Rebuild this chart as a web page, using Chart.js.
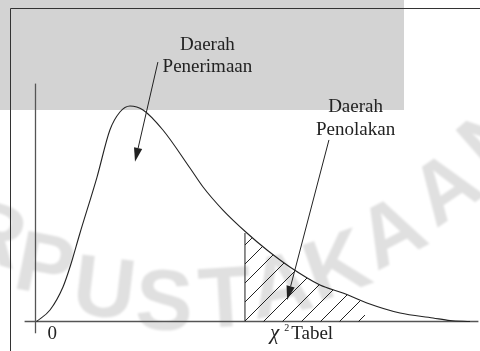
<!DOCTYPE html>
<html><head><meta charset="utf-8">
<script src="https://cdn.jsdelivr.net/npm/chart.js@4/dist/chart.umd.min.js"></script>
<style>html,body{margin:0;padding:0;background:#fff;overflow:hidden}#wrap{width:480px;height:351px}</style>
</head><body><div id="wrap"><canvas id="c" width="480" height="351"></canvas></div>
<script>
// ---- data ----
const curveX = [0.05, 0.665, 1.26, 1.6, 2.04, 2.82, 3.41, 3.87, 4.33, 4.93, 5.84, 7.08, 7.68, 8.59, 9.69, 10.61, 11.66, 13.04, 14.09, 15.19, 16.71, 18.22, 19.0, 19.915];
const curveY = [0.0, 0.0107, 0.0322, 0.052, 0.0826, 0.1348, 0.1787, 0.1955, 0.2011, 0.1974, 0.1787, 0.1432, 0.1255, 0.1040, 0.0826, 0.0667, 0.0509, 0.0341, 0.0266, 0.0173, 0.0079, 0.0033, 0.0009, 0.0];
const hatchX = [9.60, 10.61, 11.66, 13.04, 14.09, 15.1];
const hatchY = [0.0826, 0.0667, 0.0509, 0.0341, 0.0266, 0.018];
const chiTable = 9.60;
const chiTableDensity = 0.0826;
const axisXRange = [-0.5, 20.3];
const axisYRange = [-0.011, 0.222];
const tickValues = [0, chiTable];
const tickLabels = ['0', 'χ²Tabel'];
const regionLabels = [['Daerah', 'Penerimaan'], ['Daerah', 'Penolakan']];
const regionLabelX = [7.88, 14.67];
const regionLabelY = [0.2599, 0.2020];
const arrowFromX = [5.61, 13.45];
const arrowFromY = [0.2421, 0.1694];
const arrowToX = [4.56, 11.53];
const arrowToY = [0.1491, 0.0201];
const watermarkText = 'RPUSTAKAAN';

// ---- styling (not data) ----
const INK = '#222';
const SERIF = '"Liberation Serif", "Times New Roman", serif';
const wmPlace = [[-8,238,0.3],[44,270,0.2],[104,293,0.12],[164,306,0.04],[225,303,-0.06],[281,290,-0.2],[338,270,-0.34],[393,236,-0.48],[448,192,-0.6],[498,140,-0.72]];
const tickLabelDx = [12, 25];

const pts = (xs, ys) => xs.map((x, i) => ({x, y: ys[i]}));

// hatch pattern
const tile = document.createElement('canvas');
tile.width = 19; tile.height = 19;
(function(){
  const t = tile.getContext('2d');
  t.strokeStyle = INK; t.lineWidth = 1;
  for (let k = -1; k <= 2; k++) {
    const c = 15 + 19 * k;
    t.beginPath(); t.moveTo(c + 5, -5); t.lineTo(c - 19 - 5, 19 + 5); t.stroke();
  }
})();
const hatchPattern = document.getElementById('c').getContext('2d').createPattern(tile, 'repeat');

const decor = {
  id: 'decor',
  beforeDraw(chart) {
    const ctx = chart.ctx;
    ctx.save();
    ctx.fillStyle = '#fff'; ctx.fillRect(0, 0, 480, 351);
    ctx.fillStyle = '#d3d3d3'; ctx.fillRect(0, 0, 404, 110);
    // watermark
    ctx.font = 'bold 86px "Liberation Sans", Arial, sans-serif';
    ctx.fillStyle = 'rgba(0,0,0,0.12)';
    ctx.textAlign = 'center'; ctx.textBaseline = 'middle';
    ctx.filter = 'blur(0.8px)';
    [...watermarkText].forEach((ch, i) => {
      const p = wmPlace[i];
      ctx.save(); ctx.translate(p[0], p[1]); ctx.rotate(p[2]); ctx.fillText(ch, 0, 0); ctx.restore();
    });
    ctx.restore();
  },
  afterDatasetsDraw(chart) {
    const ctx = chart.ctx, xs = chart.scales.x, ys = chart.scales.y;
    ctx.save();
    // frame
    ctx.strokeStyle = '#333'; ctx.lineWidth = 1;
    ctx.beginPath(); ctx.moveTo(10.5, 351); ctx.lineTo(10.5, 8.5); ctx.lineTo(480, 8.5); ctx.stroke();
    // arrows
    ctx.strokeStyle = INK; ctx.fillStyle = INK; ctx.lineWidth = 1;
    for (let i = 0; i < arrowFromX.length; i++) {
      const x0 = xs.getPixelForValue(arrowFromX[i]), y0 = ys.getPixelForValue(arrowFromY[i]);
      const x1 = xs.getPixelForValue(arrowToX[i]), y1 = ys.getPixelForValue(arrowToY[i]);
      const a = Math.atan2(y1 - y0, x1 - x0), L = 14, W = 4.2;
      const bx = x1 - L * Math.cos(a), by = y1 - L * Math.sin(a);
      ctx.beginPath(); ctx.moveTo(x0, y0); ctx.lineTo(bx, by); ctx.stroke();
      ctx.beginPath(); ctx.moveTo(x1, y1);
      ctx.lineTo(bx + W * Math.sin(a), by - W * Math.cos(a));
      ctx.lineTo(bx - W * Math.sin(a), by + W * Math.cos(a));
      ctx.closePath(); ctx.fill();
    }
    // region labels
    ctx.font = '19px ' + SERIF; ctx.textAlign = 'center'; ctx.textBaseline = 'alphabetic';
    regionLabels.forEach((lines, i) => {
      const cx = xs.getPixelForValue(regionLabelX[i]), cy = ys.getPixelForValue(regionLabelY[i]);
      lines.forEach((t, j) => ctx.fillText(t, cx, cy + 7 + j * 22.5));
    });
    // tick labels
    ctx.textAlign = 'left';
    tickValues.forEach((v, i) => {
      let x = xs.getPixelForValue(v) + tickLabelDx[i];
      const base = ys.getPixelForValue(0) + 17.5;
      const lab = tickLabels[i];
      if (lab.includes('²')) {
        const [pre, post] = lab.split('²');
        ctx.font = 'italic 21px ' + SERIF; ctx.fillText(pre, x, base); x += ctx.measureText(pre).width + 5;
        ctx.font = '10px ' + SERIF; ctx.fillText('2', x, base - 8); x += 7;
        ctx.font = '19px ' + SERIF; ctx.fillText(post, x, base);
      } else {
        ctx.font = '19px ' + SERIF; ctx.fillText(lab, x, base);
      }
    });
    ctx.restore();
  }
};

new Chart(document.getElementById('c'), {
  type: 'scatter',
  data: {
    datasets: [
      { data: pts(hatchX, hatchY), showLine: true, borderWidth: 0, pointRadius: 0, fill: 'origin', backgroundColor: hatchPattern, cubicInterpolationMode: 'monotone' },
      { data: pts(curveX, curveY), showLine: true, borderColor: INK, borderWidth: 1.1, pointRadius: 0, fill: false, cubicInterpolationMode: 'monotone' },
      { data: [{x: chiTable, y: 0}, {x: chiTable, y: chiTableDensity}], showLine: true, borderColor: '#444', borderWidth: 1.2, pointRadius: 0 },
      { data: [{x: axisXRange[0], y: 0}, {x: axisXRange[1], y: 0}], showLine: true, borderColor: '#555', borderWidth: 1.3, pointRadius: 0 },
      { data: [{x: 0, y: axisYRange[0]}, {x: 0, y: axisYRange[1]}], showLine: true, borderColor: '#555', borderWidth: 1.3, pointRadius: 0 }
    ]
  },
  options: {
    responsive: false, animation: false, devicePixelRatio: 1,
    layout: { padding: 0 },
    plugins: { legend: { display: false }, tooltip: { enabled: false } },
    scales: {
      x: { type: 'linear', min: -1.627, max: 20.373, display: false },
      y: { type: 'linear', min: -0.02753, max: 0.3, display: false }
    }
  },
  plugins: [decor]
});
</script>
</body></html>
